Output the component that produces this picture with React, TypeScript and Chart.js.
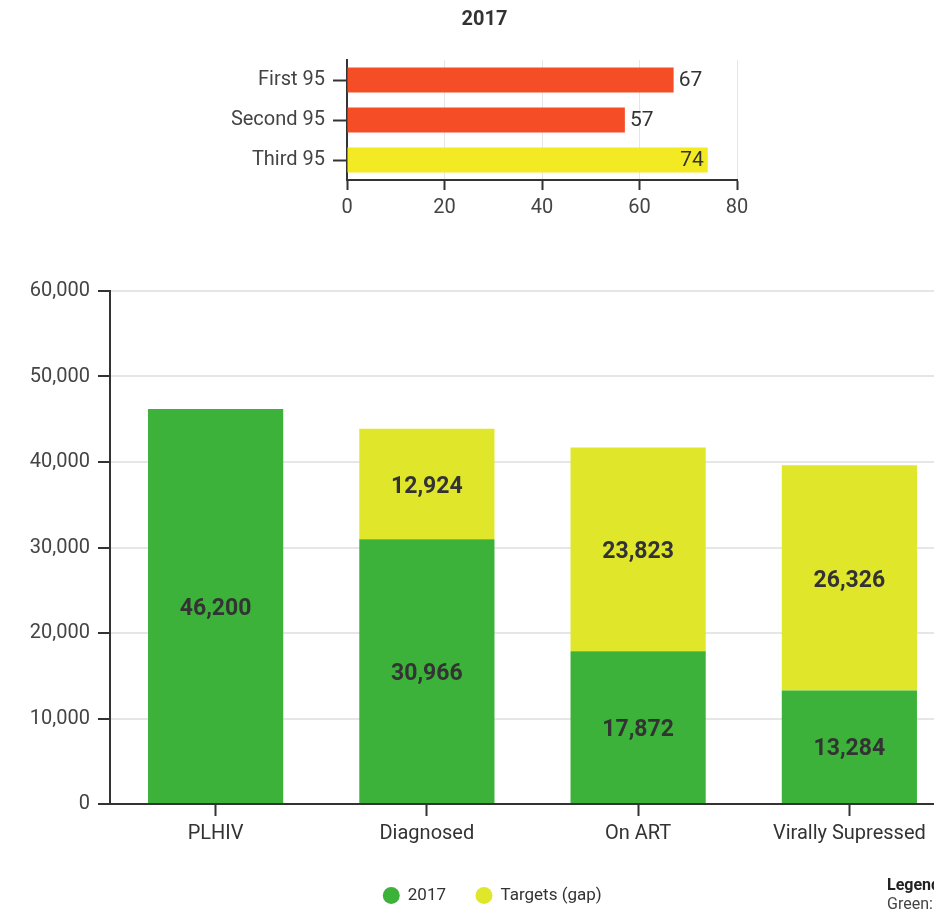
import React, { useEffect, useRef } from 'react';
import { Chart, registerables } from 'chart.js';

Chart.register(...registerables);

const FONT = "Roboto, 'Noto Sans', sans-serif";

// ---- top chart data ----
const targetTitle = '2017';
const targetLabels = ['First 95', 'Second 95', 'Third 95'];
const targetValues = [67, 57, 74];
const targetAxisMax = 80;
const targetAxisStep = 20;

// ---- bottom chart data ----
const cascadeCategories = ['PLHIV', 'Diagnosed', 'On ART', 'Virally Supressed'];
const seriesNames = ['2017', 'Targets (gap)'];
const achieved2017 = [46200, 30966, 17872, 13284];
const targetGap = [null, 12924, 23823, 26326];
const cascadeAxisMax = 60000;
const cascadeAxisStep = 10000;

const ORANGE = '#f54e27';
const YELLOW_TOP = '#f3ea24';
const GREEN = '#3db23a';
const YELLOW = '#e0e72b';
const DARK = '#333333';
const GRID = '#e6e6e6';

const fmt = (v: number) => v.toLocaleString('en-US');

const topValuePlugin = {
  id: 'topValues',
  afterDatasetsDraw(chart: any) {
    const ctx = chart.ctx;
    const meta = chart.getDatasetMeta(0);
    const data = chart.data.datasets[0].data as number[];
    ctx.save();
    ctx.font = `21px ${FONT}`;
    ctx.fillStyle = DARK;
    ctx.textBaseline = 'middle';
    meta.data.forEach((bar: any, i: number) => {
      const txt = fmt(data[i]);
      const w = ctx.measureText(txt).width;
      if (bar.x + 5 + w > chart.chartArea.right - 6) {
        ctx.textAlign = 'right';
        ctx.fillText(txt, bar.x - 4, bar.y + 1);
      } else {
        ctx.textAlign = 'left';
        ctx.fillText(txt, bar.x + 5, bar.y + 1);
      }
    });
    ctx.restore();
  },
};

const stackValuePlugin = {
  id: 'stackValues',
  afterDatasetsDraw(chart: any) {
    const ctx = chart.ctx;
    ctx.save();
    ctx.font = `bold 23px ${FONT}`;
    ctx.fillStyle = DARK;
    ctx.textAlign = 'center';
    ctx.textBaseline = 'middle';
    chart.data.datasets.forEach((ds: any, di: number) => {
      const meta = chart.getDatasetMeta(di);
      meta.data.forEach((bar: any, i: number) => {
        const v = ds.data[i];
        if (v == null) return;
        ctx.fillText(fmt(v), bar.x, (bar.y + bar.base) / 2 + 3);
      });
    });
    ctx.restore();
  },
};

export default function App() {
  const topRef = useRef<HTMLCanvasElement>(null);
  const bottomRef = useRef<HTMLCanvasElement>(null);

  useEffect(() => {
    const top = new Chart(topRef.current as HTMLCanvasElement, {
      type: 'bar',
      data: {
        labels: targetLabels,
        datasets: [
          {
            data: targetValues,
            backgroundColor: [ORANGE, ORANGE, YELLOW_TOP],
            barPercentage: 0.625,
            categoryPercentage: 1,
          },
        ],
      },
      options: {
        indexAxis: 'y',
        responsive: false,
        animation: false,
        layout: { padding: { left: 232, right: 23, top: 0, bottom: 0 } },
        plugins: {
          legend: { display: false },
          tooltip: { enabled: false },
          title: {
            display: true,
            text: targetTitle,
            color: DARK,
            font: { family: FONT, size: 20, weight: 'bold' },
            padding: { top: 8, bottom: 28 },
          },
        },
        scales: {
          x: {
            min: 0,
            max: targetAxisMax,
            ticks: { stepSize: targetAxisStep, color: '#444', font: { family: FONT, size: 20 }, padding: 6 },
            grid: { color: GRID, tickColor: DARK, tickLength: 10, lineWidth: 1, tickWidth: 2 },
            border: { color: DARK, width: 2 },
            afterFit: (s: any) => {
              s.height = 40;
            },
          },
          y: {
            ticks: { color: '#444', font: { family: FONT, size: 20 }, padding: 8 },
            grid: { drawOnChartArea: false, offset: false, tickColor: DARK, tickLength: 14, tickWidth: 2 },
            border: { color: DARK, width: 2 },
            afterFit: (s: any) => {
              s.width = 115;
            },
          },
        },
      } as any,
      plugins: [topValuePlugin],
    });

    const bottom = new Chart(bottomRef.current as HTMLCanvasElement, {
      type: 'bar',
      data: {
        labels: cascadeCategories,
        datasets: [
          {
            label: seriesNames[0],
            data: achieved2017,
            backgroundColor: GREEN,
            barPercentage: 0.64,
            categoryPercentage: 1,
          },
          {
            label: seriesNames[1],
            data: targetGap as any,
            backgroundColor: YELLOW,
            barPercentage: 0.64,
            categoryPercentage: 1,
          },
        ],
      },
      options: {
        responsive: false,
        animation: false,
        layout: { padding: { left: 30, right: 31, top: 41, bottom: 0 } },
        plugins: {
          tooltip: { enabled: false },
          legend: {
            position: 'bottom',
            labels: {
              usePointStyle: true,
              pointStyle: 'circle',
              boxWidth: 16,
              boxHeight: 12,
              padding: 30,
              color: DARK,
              font: { family: FONT, size: 17 },
            },
          },
        },
        scales: {
          x: {
            stacked: true,
            ticks: { color: DARK, font: { family: FONT, size: 20 }, padding: 6 },
            grid: { drawOnChartArea: false, offset: false, tickColor: DARK, tickLength: 12, tickWidth: 2 },
            border: { color: DARK, width: 2 },
            afterFit: (s: any) => {
              s.height = 53;
            },
          },
          y: {
            stacked: true,
            min: 0,
            max: cascadeAxisMax,
            ticks: {
              stepSize: cascadeAxisStep,
              color: '#444',
              font: { family: FONT, size: 20 },
              padding: 8,
              callback: (v: any) => fmt(Number(v)),
            },
            grid: { color: GRID, lineWidth: 2, tickColor: DARK, tickLength: 12, tickWidth: 2 },
            border: { color: DARK, width: 2 },
            afterFit: (s: any) => {
              s.width = 80;
            },
          },
        },
      } as any,
      plugins: [stackValuePlugin],
    });

    return () => {
      top.destroy();
      bottom.destroy();
    };
  }, []);

  return (
    <div
      style={{
        position: 'absolute',
        left: 0,
        top: 0,
        width: 934,
        height: 910,
        overflow: 'hidden',
        background: '#fff',
        fontFamily: FONT,
      }}
    >
      <canvas ref={topRef} width={760} height={220} style={{ position: 'absolute', left: 0, top: 0 }} />
      <canvas ref={bottomRef} width={986} height={664} style={{ position: 'absolute', left: 0, top: 250 }} />
      <div style={{ position: 'absolute', left: 887, top: 875, fontSize: 16, lineHeight: '19px', color: '#222' }}>
        <div style={{ fontWeight: 'bold' }}>Legend</div>
        <div style={{ color: '#444' }}>Green: achieved</div>
      </div>
    </div>
  );
}
